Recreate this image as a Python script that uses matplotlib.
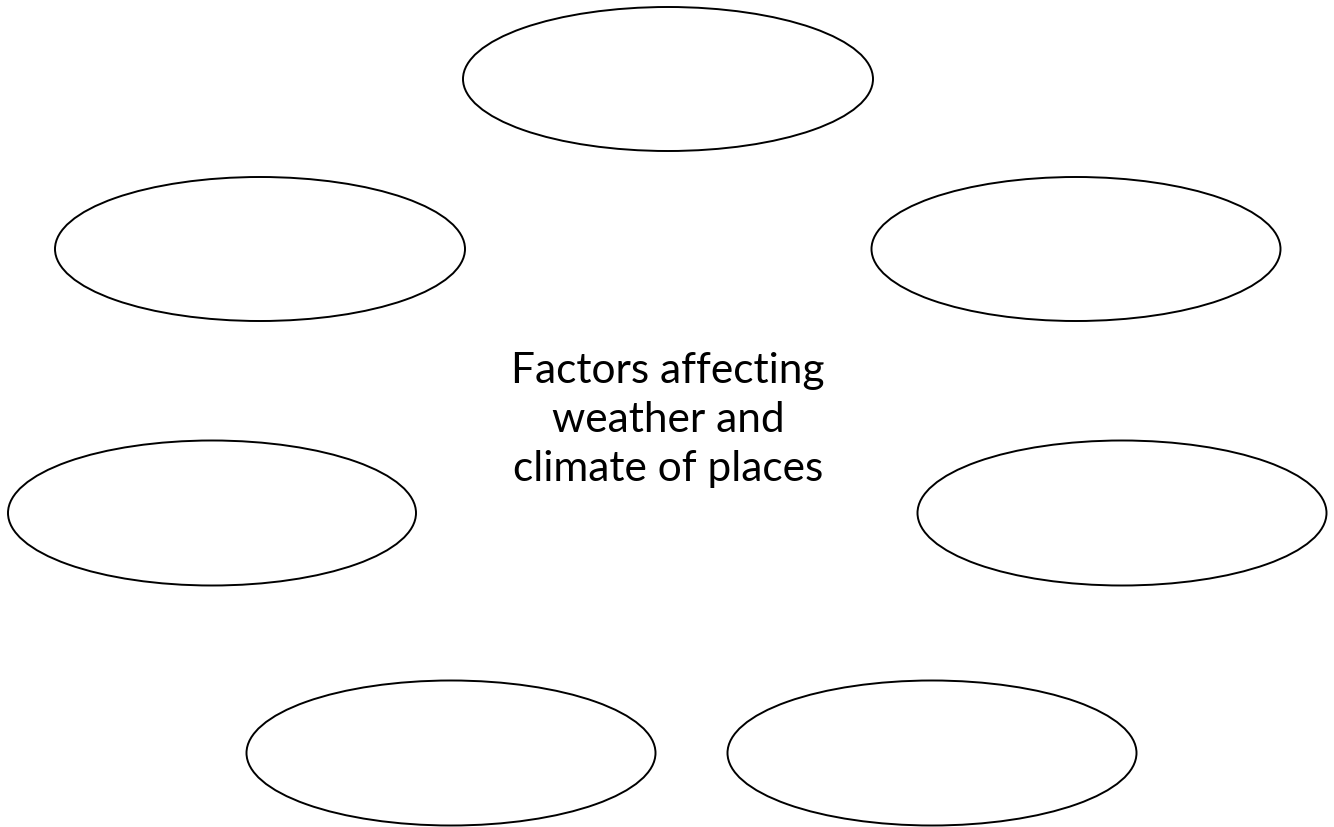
import matplotlib
matplotlib.use("Agg")
import matplotlib.pyplot as plt
from matplotlib.patches import Ellipse

# Ellipse layout (pixel space of the 1334x828 canvas)
center_x = [668, 260, 1076, 212, 1122, 451, 932]
center_y = [80, 250, 250, 514, 514, 754, 754]
widths = [410, 410, 409, 408, 409, 409, 409]
heights = [144, 144, 144, 145, 145, 145, 145]

title_lines = ["Factors affecting", "weather and", "climate of places"]

fig = plt.figure(figsize=(13.34, 8.28), dpi=100)
ax = fig.add_axes([0, 0, 1, 1])
ax.set_xlim(0, 1334)
ax.set_ylim(828, 0)
ax.axis("off")

for cx, cy, w, h in zip(center_x, center_y, widths, heights):
    ax.add_patch(Ellipse((cx, cy), w, h, facecolor="white", edgecolor="black", lw=1.4))

ax.text(668, 420, "\n".join(title_lines), ha="center", va="center",
        fontsize=30.5, family=["Lato", "DejaVu Sans"], linespacing=1.34, color="black")

fig.savefig("out.png", dpi=100, facecolor="white")
